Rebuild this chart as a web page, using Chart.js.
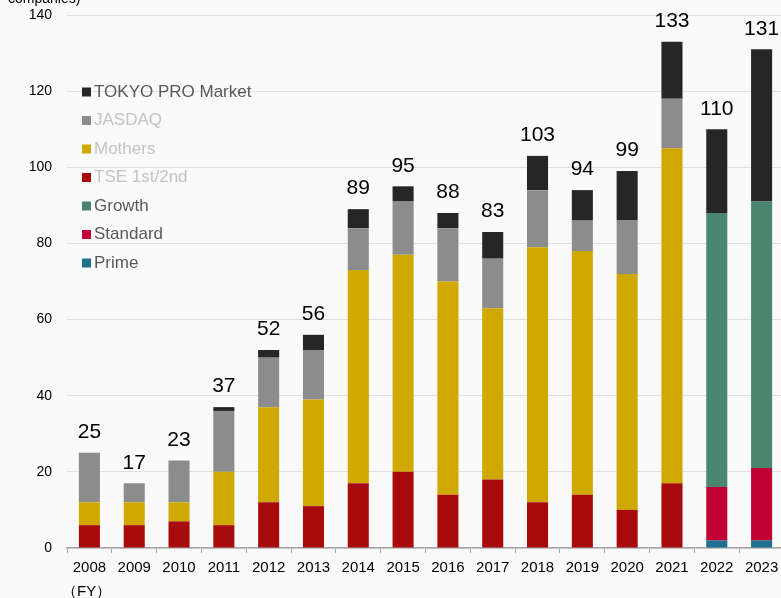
<!DOCTYPE html>
<html>
<head>
<meta charset="utf-8">
<script src="https://cdn.jsdelivr.net/npm/chart.js@4"></script>
<style>
  html, body { margin: 0; padding: 0; background: #fafafa; overflow: hidden; }
  #wrap { width: 781px; height: 598px; overflow: hidden; }
</style>
</head>
<body>
<div id="wrap"><canvas id="chart" width="784" height="598"></canvas></div>
<script>
// FY categories
const years = ['2008', '2009', '2010', '2011', '2012', '2013', '2014', '2015',
               '2016', '2017', '2018', '2019', '2020', '2021', '2022', '2023'];

// IPO counts per market (companies)
const prime    = [null, null, null, null, null, null, null, null, null, null, null, null, null, null, 2, 2];
const standard = [null, null, null, null, null, null, null, null, null, null, null, null, null, null, 14, 19];
const growth   = [null, null, null, null, null, null, null, null, null, null, null, null, null, null, 72, 70];
const tse      = [6, 6, 7, 6, 12, 11, 17, 20, 14, 18, 12, 14, 10, 17, null, null];
const mothers  = [6, 6, 5, 14, 25, 28, 56, 57, 56, 45, 67, 64, 62, 88, null, null];
const jasdaq   = [13, 5, 11, 16, 13, 13, 11, 14, 14, 13, 15, 8, 14, 13, null, null];
const proMkt   = [null, null, null, 1, 2, 4, 5, 4, 4, 7, 9, 8, 13, 15, 22, 40];

const yTicks = [0, 20, 40, 60, 80, 100, 120, 140];

const series = [
    { label: 'Prime', data: prime, color: '#1f6f8e', text: '#595959' },
    { label: 'Standard', data: standard, color: '#c00034', text: '#595959' },
    { label: 'Growth', data: growth, color: '#4a8570', text: '#595959' },
    { label: 'TSE 1st/2nd', data: tse, color: '#a80b0b', text: '#c4c4c4' },
    { label: 'Mothers', data: mothers, color: '#cfa800', text: '#c4c4c4' },
    { label: 'JASDAQ', data: jasdaq, color: '#8c8c8c', text: '#c4c4c4' },
    { label: 'TOKYO PRO Market', data: proMkt, color: '#262626', text: '#595959' }
];

const totals = years.map((y, i) => series.reduce((s, d) => s + (d.data[i] || 0), 0));

// totals above bars, legend, axis notes
const extras = {
    id: 'extras',
    afterDatasetsDraw(chart) {
        const ctx = chart.ctx;
        const x = chart.scales.x, yS = chart.scales.y;
        ctx.save();
        ctx.fillStyle = '#000';
        ctx.font = '21px "Liberation Sans", Arial, sans-serif';
        ctx.textAlign = 'center';
        ctx.textBaseline = 'bottom';
        totals.forEach((t, i) => {
            ctx.fillText(String(t), x.getPixelForValue(i), yS.getPixelForValue(t) - 10);
        });

        // legend, top to bottom
        ctx.font = '17px "Liberation Sans", Arial, sans-serif';
        ctx.textAlign = 'left';
        ctx.textBaseline = 'middle';
        const rows = series.slice().reverse();
        rows.forEach((s, i) => {
            const cy = 92 + i * 28.5;
            ctx.fillStyle = s.color;
            ctx.fillRect(82, cy - 4.5, 9, 9);
            ctx.fillStyle = s.text;
            ctx.fillText(s.label, 94, cy);
        });

        ctx.fillStyle = '#000';
        ctx.font = '14px "Liberation Sans", Arial, sans-serif';
        ctx.textBaseline = 'alphabetic';
        ctx.fillText('companies)', 8, 3);
        ctx.font = '15px "Liberation Sans", Arial, sans-serif';
        ctx.fillText('（FY）', 62, 596);
        ctx.restore();
    }
};

new Chart(document.getElementById('chart'), {
    type: 'bar',
    data: {
        labels: years,
        datasets: series.map(s => ({
            label: s.label,
            data: s.data,
            backgroundColor: s.color,
            borderWidth: 0,
            barPercentage: 0.47,
            categoryPercentage: 1
        }))
    },
    options: {
        responsive: false,
        animation: false,
        devicePixelRatio: 1,
        layout: { padding: { top: 15, right: 0, left: 0, bottom: 0 } },
        plugins: {
            legend: { display: false },
            tooltip: { enabled: false }
        },
        scales: {
            x: {
                stacked: true,
                afterFit(scale) {
                    scale.height = 50;
                    scale.paddingLeft = 0;
                    scale.paddingRight = 0;
                },
                grid: {
                    offset: true,
                    drawOnChartArea: false,
                    tickLength: 5,
                    color: '#a6a6a6'
                },
                border: { color: '#a6a6a6', width: 1.5 },
                ticks: {
                    color: '#000',
                    padding: 6,
                    font: { size: 15, family: '"Liberation Sans", Arial, sans-serif' }
                }
            },
            y: {
                stacked: true,
                min: 0,
                max: 140,
                afterFit(scale) {
                    scale.width = 67;
                    scale.paddingTop = 0;
                    scale.paddingBottom = 0;
                },
                afterBuildTicks(scale) { scale.ticks = yTicks.map(v => ({ value: v })); },
                grid: { color: '#e0e0e0', drawTicks: false },
                border: { display: false },
                ticks: {
                    color: '#000',
                    padding: 15,
                    font: { size: 14, family: '"Liberation Sans", Arial, sans-serif' }
                }
            }
        }
    },
    plugins: [extras]
});
</script>
</body>
</html>
